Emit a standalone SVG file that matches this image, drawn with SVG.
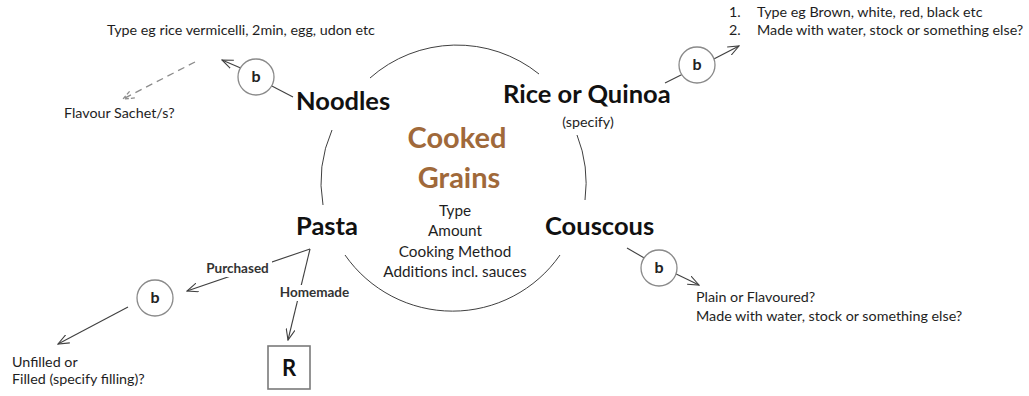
<svg xmlns="http://www.w3.org/2000/svg" width="1029" height="396" viewBox="0 0 1029 396">
  <style>
    .bg { fill: #ffffff; }
    .ring { fill: none; stroke: #404040; stroke-width: 1; }
    .link { fill: none; stroke: #404040; stroke-width: 1.1; }
    .dash { fill: none; stroke: #8c8c8c; stroke-width: 1.3; stroke-dasharray: 7 5; }
    .badge { fill: #ffffff; stroke: #8a8a8a; stroke-width: 1.3; }
    .box { fill: #ffffff; stroke: #7a7a7a; stroke-width: 1.6; }
    text { font-family: Lato, "Open Sans", "Liberation Sans", sans-serif; fill: #1e1e1e; }
    .note { font-size: 14.3px; }
    .main { font-size: 25.5px; font-weight: bold; fill: #111111; }
    .hub { font-size: 29px; font-weight: bold; fill: #a0693a; }
    .sub { font-size: 15.3px; }
    .tag { font-size: 13.5px; font-weight: bold; fill: #333333; }
    .b { font-size: 16px; font-weight: bold; fill: #222222; }
    .r { font-size: 22px; font-weight: bold; fill: #111111; }
  </style>
  <defs>
    <marker id="open" viewBox="0 0 12 10" refX="11" refY="5" markerWidth="12" markerHeight="10" markerUnits="userSpaceOnUse" orient="auto">
      <path d="M0,0.5 L11,5 L0,9.5" fill="none" stroke="#404040" stroke-width="1.1"/>
    </marker>
    <marker id="openGrey" viewBox="0 0 12 10" refX="11" refY="5" markerWidth="12" markerHeight="10" markerUnits="userSpaceOnUse" orient="auto">
      <path d="M0,0.5 L11,5 L0,9.5" fill="none" stroke="#8c8c8c" stroke-width="1.3" stroke-dasharray="4 2"/>
    </marker>
  </defs>

  <rect class="bg" x="0" y="0" width="1029" height="396"/>

  <!-- ring around the hub, broken where the four grain labels sit -->
  <g id="ring">
    <path class="ring" d="M370,78 A131,131 0 0 1 539,74"/>
    <path class="ring" d="M577,135 A131,131 0 0 1 585,200"/>
    <path class="ring" d="M560,255 A131,131 0 0 1 345,255"/>
    <path class="ring" d="M323,205 A131,131 0 0 1 332,130"/>
  </g>

  <!-- connectors -->
  <g id="connectors">
    <!-- noodles -->
    <line class="link" x1="293" y1="97" x2="268" y2="84"/>
    <line class="link" x1="250" y1="72" x2="222" y2="60" marker-end="url(#open)"/>
    <line class="dash" x1="195" y1="62" x2="123" y2="99" marker-end="url(#openGrey)"/>
    <!-- rice or quinoa -->
    <line class="link" x1="665" y1="83" x2="685" y2="73"/>
    <line class="link" x1="708" y1="62" x2="739" y2="46" marker-end="url(#open)"/>
    <!-- couscous -->
    <line class="link" x1="627" y1="248" x2="646" y2="259"/>
    <line class="link" x1="670" y1="271" x2="699" y2="285" marker-end="url(#open)"/>
    <!-- pasta -->
    <line class="link" x1="310" y1="249" x2="187" y2="291" marker-end="url(#open)"/>
    <line class="link" x1="310" y1="249" x2="288" y2="340" marker-end="url(#open)"/>
    <line class="link" x1="128" y1="307" x2="58" y2="344" marker-end="url(#open)"/>
  </g>

  <!-- hub -->
  <g id="hub">
    <text class="hub" x="457" y="148" text-anchor="middle">Cooked</text>
    <text class="hub" x="459" y="188" text-anchor="middle">Grains</text>
    <text class="sub" x="455" y="216" text-anchor="middle">Type</text>
    <text class="sub" x="455" y="236" text-anchor="middle">Amount</text>
    <text class="sub" x="455" y="257" text-anchor="middle">Cooking Method</text>
    <text class="sub" x="455" y="277" text-anchor="middle">Additions incl. sauces</text>
  </g>

  <!-- noodles -->
  <g id="noodles">
    <text class="main" x="296" y="110">Noodles</text>
    <circle class="badge" cx="256" cy="77" r="18"/>
    <text class="b" x="256" y="82" text-anchor="middle">b</text>
    <text class="note" x="107" y="35">Type eg rice vermicelli, 2min, egg, udon etc</text>
    <text class="note" x="64" y="118">Flavour Sachet/s?</text>
  </g>

  <!-- rice or quinoa -->
  <g id="rice">
    <text class="main" x="503" y="103">Rice or Quinoa</text>
    <text class="note" x="588" y="127" text-anchor="middle">(specify)</text>
    <circle class="badge" cx="697" cy="65" r="18"/>
    <text class="b" x="697" y="70" text-anchor="middle">b</text>
    <text class="note" x="729" y="17">1.</text>
    <text class="note" x="757" y="17">Type eg Brown, white, red, black etc</text>
    <text class="note" x="729" y="35">2.</text>
    <text class="note" x="757" y="35">Made with water, stock or something else?</text>
  </g>

  <!-- couscous -->
  <g id="couscous">
    <text class="main" x="545" y="235">Couscous</text>
    <circle class="badge" cx="659" cy="268" r="18"/>
    <text class="b" x="659" y="273" text-anchor="middle">b</text>
    <text class="note" x="696" y="302">Plain or Flavoured?</text>
    <text class="note" x="696" y="321">Made with water, stock or something else?</text>
  </g>

  <!-- pasta -->
  <g id="pasta">
    <text class="main" x="296" y="235">Pasta</text>
    <rect class="bg" x="203" y="261" width="69" height="16"/>
    <text class="tag" x="237.5" y="273" text-anchor="middle">Purchased</text>
    <rect class="bg" x="276" y="285" width="77" height="16"/>
    <text class="tag" x="314.5" y="297" text-anchor="middle">Homemade</text>
    <circle class="badge" cx="155" cy="298" r="18"/>
    <text class="b" x="155" y="303" text-anchor="middle">b</text>
    <rect class="box" x="268" y="346" width="42" height="43"/>
    <text class="r" x="289" y="376" text-anchor="middle">R</text>
    <text class="note" x="12" y="367">Unfilled or</text>
    <text class="note" x="12" y="384">Filled (specify filling)?</text>
  </g>
</svg>
